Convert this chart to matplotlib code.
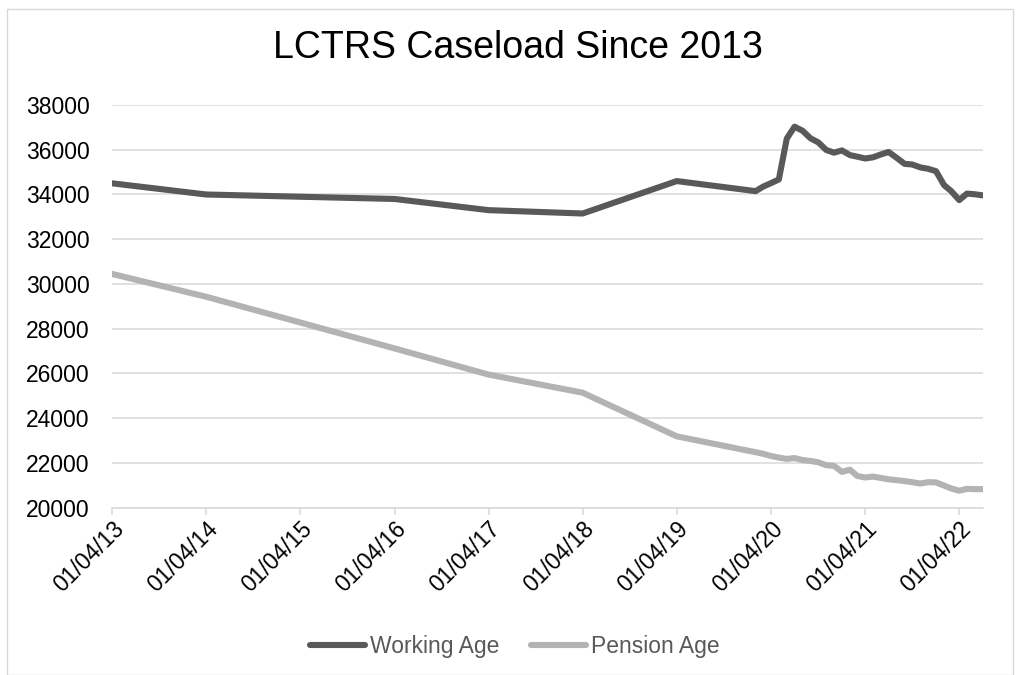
import pandas as pd
import matplotlib
matplotlib.use("Agg")
import matplotlib.pyplot as plt
import matplotlib.dates as mdates
from matplotlib.patches import Rectangle

plt.rcParams['font.family'] = ['Liberation Sans', 'DejaVu Sans']

# caseload data (annual to 2019, then monthly)
dates = ["2013-04-01", "2014-04-01", "2015-04-01", "2016-04-01", "2017-04-01",
         "2018-04-01", "2019-04-01",
         "2020-02-01", "2020-03-01", "2020-04-01", "2020-05-01", "2020-06-01",
         "2020-07-01", "2020-08-01", "2020-09-01", "2020-10-01", "2020-11-01",
         "2020-12-01", "2021-01-01", "2021-02-01", "2021-03-01", "2021-04-01",
         "2021-05-01", "2021-06-01", "2021-07-01", "2021-08-01", "2021-09-01",
         "2021-10-01", "2021-11-01", "2021-12-01", "2022-01-01", "2022-02-01",
         "2022-03-01", "2022-04-01", "2022-05-01", "2022-06-01", "2022-07-01"]
working_age = [34500, 34000, 33900, 33800, 33300, 33150, 34600,
               34150, 34350, 34510, 34670, 36500, 37030, 36850, 36510, 36330,
               35990, 35870, 35970, 35760, 35690, 35610, 35660, 35790, 35900,
               35640, 35370, 35340, 35210, 35150, 35040, 34420, 34150, 33750,
               34040, 34010, 33960]
pension_age = [30450, 29430, 28280, 27120, 25950, 25140, 23190,
               22480, 22410, 22310, 22240, 22180, 22220, 22130, 22090, 22030,
               21900, 21870, 21600, 21700, 21420, 21350, 21390, 21330, 21270,
               21230, 21190, 21140, 21080, 21140, 21130, 20990, 20860, 20760,
               20840, 20830, 20830]
tick_dates = ["2013-04-01", "2014-04-01", "2015-04-01", "2016-04-01", "2017-04-01",
              "2018-04-01", "2019-04-01", "2020-04-01", "2021-04-01", "2022-04-01"]

df = pd.DataFrame({"date": pd.to_datetime(dates),
                   "Working Age": working_age,
                   "Pension Age": pension_age})

W, H = 1016, 675
fig = plt.figure(figsize=(W / 100, H / 100), dpi=100)
fig.patch.set_facecolor('white')

# chart border
fig.patches.append(Rectangle((7 / W, 0), (1013 - 7) / W, 1 - 9 / H,
                             transform=fig.transFigure, fill=False,
                             edgecolor='#d9d9d9', linewidth=1))

ax = fig.add_axes([112 / W, (H - 507.7) / H, (982.7 - 112) / W, (507.7 - 105) / H])

ax.plot(df["date"], df["Working Age"], color='#595959', linewidth=4.4,
        solid_capstyle='round', solid_joinstyle='round', label='Working Age')
ax.plot(df["date"], df["Pension Age"], color='#b3b3b3', linewidth=4.4,
        solid_capstyle='round', solid_joinstyle='round', label='Pension Age')

ax.set_ylim(20000, 38000)
ax.set_yticks(range(20000, 38001, 2000))
ax.set_xlim(pd.Timestamp(dates[0]), pd.Timestamp(dates[-1]))
ax.set_xticks(pd.to_datetime(tick_dates))
ax.xaxis.set_major_formatter(mdates.DateFormatter('%d/%m/%y'))

ax.grid(axis='y', color='#d9d9d9', linewidth=1.1)
ax.set_axisbelow(True)
for s in ['top', 'right', 'left']:
    ax.spines[s].set_visible(False)
ax.spines['bottom'].set_color('#d9d9d9')
ax.spines['bottom'].set_linewidth(1.1)

ax.tick_params(axis='y', length=0, pad=16, labelsize=16.5, labelcolor='black')
ax.tick_params(axis='x', length=5, width=1.1, color='#d9d9d9', pad=2,
               labelsize=16.5, labelcolor='black')
for lbl in ax.get_xticklabels():
    lbl.set_rotation(45)
    lbl.set_ha('right')
    lbl.set_va('top')
    lbl.set_rotation_mode('anchor')

fig.text(518 / W, 1 - 48 / H, 'LCTRS Caseload Since 2013', ha='center',
         va='center', fontsize=27, color='black')

fig.legend(loc='center', bbox_to_anchor=(515 / W, 1 - 647 / H), ncol=2,
           frameon=False, fontsize=16.5, labelcolor='#595959',
           handlelength=2.4, handletextpad=0.2, columnspacing=1.4)

fig.savefig('out.png', dpi=100)
